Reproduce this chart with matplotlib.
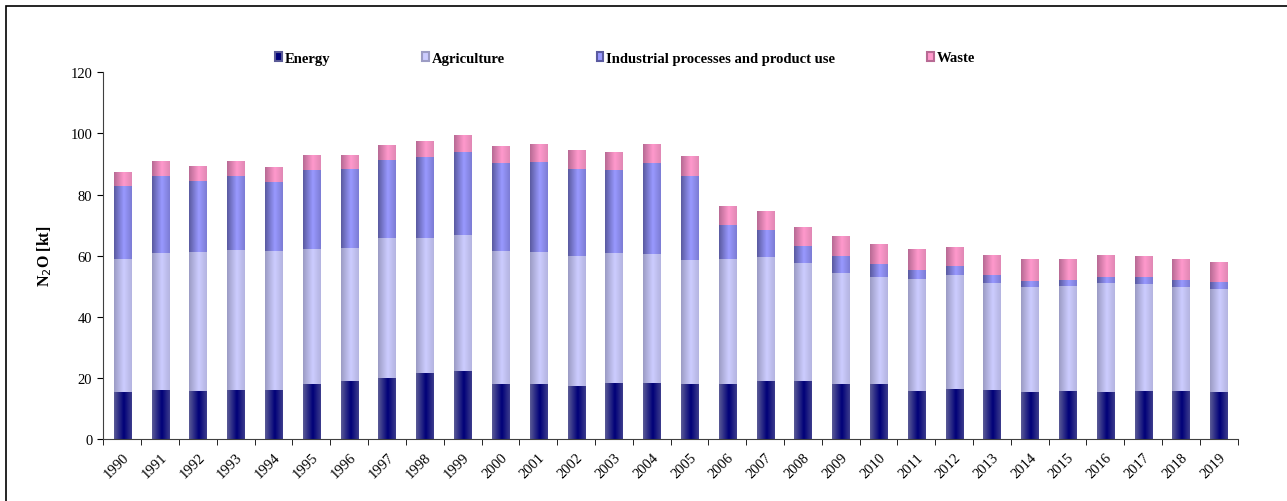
import numpy as np
import matplotlib
import matplotlib.pyplot as plt
from matplotlib.colors import LinearSegmentedColormap
from matplotlib.patches import Patch, Rectangle

matplotlib.use('Agg')

years = [str(y) for y in range(1990, 2020)]

# N2O emissions [kt] by sector
energy = [15.5, 16.1, 15.8, 15.9, 16.1, 18.0, 19.0, 20.0, 21.6, 22.3,
          18.0, 18.0, 17.3, 18.3, 18.3, 18.0, 18.0, 19.0, 19.0, 18.0,
          18.0, 15.7, 16.4, 16.1, 15.4, 15.7, 15.4, 15.7, 15.7, 15.4]
agriculture = [43.4, 44.8, 45.4, 46.1, 45.4, 44.2, 43.5, 45.8, 44.2, 44.5,
               43.5, 43.2, 42.6, 42.6, 42.2, 40.6, 40.9, 40.6, 38.6, 36.3,
               35.0, 36.7, 37.3, 35.0, 34.4, 34.5, 35.7, 35.1, 34.1, 33.8]
industrial = [24.0, 25.2, 23.2, 24.1, 22.6, 25.8, 25.9, 25.5, 26.5, 27.1,
              28.8, 29.5, 28.5, 27.1, 29.8, 27.5, 11.1, 8.8, 5.6, 5.6,
              4.3, 2.9, 2.9, 2.7, 2.0, 1.9, 2.0, 2.3, 2.3, 2.3]
waste = [4.5, 4.6, 4.9, 4.6, 4.9, 4.9, 4.5, 4.9, 5.2, 5.3,
         5.3, 5.8, 5.9, 5.6, 6.2, 6.5, 5.9, 6.2, 6.2, 6.5,
         6.5, 6.6, 6.2, 6.5, 6.9, 6.6, 6.9, 6.6, 6.6, 6.5]

series = ['Energy', 'Agriculture', 'Industrial processes and product use', 'Waste']
values = [energy, agriculture, industrial, waste]
# (left edge, middle, right edge) of the shaded bars
shades = [('#5a5a96', '#000078', '#3c3c8c'),
          ('#9c9cc4', '#ccccff', '#b4b4e0'),
          ('#5a5aa0', '#9999ff', '#7c7cd4'),
          ('#b86a94', '#ff99cc', '#e088b4')]

plt.rcParams['font.family'] = ['Liberation Serif', 'DejaVu Serif']

fig = plt.figure(figsize=(12.87, 5.02), dpi=100)
ax = fig.add_axes([0.0804, 0.1235, 0.8812, 0.7305])

x = np.arange(len(years))
grad = np.linspace(0, 1, 64).reshape(1, -1)
bottom = np.zeros(len(years))
for name, vals, sh in zip(series, values, shades):
    vals = np.array(vals)
    bars = ax.bar(x, vals, width=0.45, bottom=bottom, color='none', linewidth=0)
    cmap = LinearSegmentedColormap.from_list(name, [(0, sh[0]), (0.55, sh[1]), (1, sh[2])])
    for b in bars:
        x0, y0 = b.get_x(), b.get_y()
        ax.imshow(grad, cmap=cmap, aspect='auto', interpolation='bilinear',
                  extent=(x0, x0 + b.get_width(), y0, y0 + b.get_height()), zorder=2)
    bottom += vals

ax.set_xlim(-0.5, len(years) - 0.5)
ax.set_ylim(0, 120)
ax.set_yticks(range(0, 121, 20))
ax.set_xticks(x)
ax.set_xticklabels(years, rotation=45, ha='right', rotation_mode='anchor')
ax.set_xticks(np.arange(-0.5, len(years)), minor=True)
ax.tick_params(axis='x', which='major', length=0, pad=8)
ax.tick_params(axis='x', which='minor', length=4, direction='out')
ax.tick_params(axis='y', length=4, direction='out', pad=4)
ax.tick_params(labelsize=10.5)
for s in ['top', 'right']:
    ax.spines[s].set_visible(False)
for s in ['left', 'bottom']:
    ax.spines[s].set_color('#404040')

fig.text(45 / 1287, 0.49, 'N$_2$O [kt]', rotation=90, ha='center', va='center',
         fontsize=11.5, fontweight='bold')

handles = [Patch(facecolor=sh[1], edgecolor=sh[0], linewidth=1.5) for sh in shades]
leg = fig.legend(handles, series, loc='center left', bbox_to_anchor=(262 / 1287, 1 - 59 / 502),
                 ncol=4, frameon=False, handlelength=0.45, handleheight=0.6,
                 handletextpad=0.2, columnspacing=6.3, prop={'weight': 'bold', 'size': 10.5})

# outer frame (only its top and left sides fall inside the picture)
fig.patches.append(Rectangle((6 / 1287, -0.1), 1.2, 0.1 + 1 - 7 / 502, transform=fig.transFigure,
                             fill=False, edgecolor='black', linewidth=1.2))

fig.savefig('out.png', dpi=100)
